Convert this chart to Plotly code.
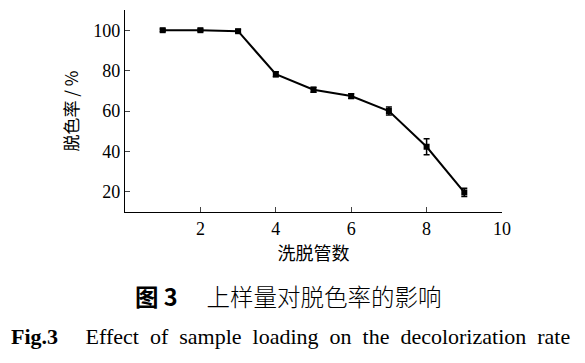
import plotly.graph_objects as go

tubes = [1, 2, 3, 4, 5, 6, 7, 8, 9]
rate = [100, 100, 99.5, 78.2, 70.5, 67.4, 60.0, 42.3, 19.7]
err = [0.6, 0.6, 0.8, 1.2, 1.2, 1.2, 2.0, 4.0, 2.0]
x_ticks = [2, 4, 6, 8, 10]
y_ticks = [20, 40, 60, 80, 100]

serif = "Liberation Serif"
cjk = "Noto Sans CJK SC"

fig = go.Figure()
fig.add_trace(go.Scatter(
    x=tubes, y=rate, mode="lines+markers",
    line=dict(color="black", width=2),
    marker=dict(symbol="square", size=6, color="black"),
    error_y=dict(type="data", array=err, visible=True, color="black", thickness=1.5, width=3),
    showlegend=False,
))

fig.update_layout(
    width=585, height=363,
    margin=dict(l=125, r=83, t=10, b=151),
    plot_bgcolor="white", paper_bgcolor="white",
    xaxis=dict(range=[0, 10], tickvals=x_ticks, ticks="inside", ticklen=5, tickwidth=1.2,
               showline=True, linecolor="black", linewidth=1.2, showgrid=False, zeroline=False,
               tickfont=dict(family=serif, size=18, color="black"),
               title=dict(text="洗脱管数", font=dict(family=cjk, size=18, color="black"), standoff=4)),
    yaxis=dict(range=[10, 110], tickvals=y_ticks, ticks="inside", ticklen=5, tickwidth=1.2,
               showline=True, linecolor="black", linewidth=1.2, showgrid=False, zeroline=False,
               tickfont=dict(family=serif, size=18, color="black"),
               title=dict(text="脱色率 / %", font=dict(family=cjk, size=17, color="black"), standoff=10)),
)

fig.add_annotation(text="<b>图 3</b>\u2003\u00a0<span style='font-weight:300'>上样量对脱色率的影响</span>",
                   xref="paper", yref="paper",
                   x=0.433, y=-0.418, showarrow=False, xanchor="center", yanchor="middle",
                   font=dict(family=cjk, size=23.5, color="black"))
fig.add_annotation(text="<b>Fig.3</b>     Effect  of  sample  loading  on  the  decolorization  rate",
                   xref="paper", yref="paper", x=0.438, y=-0.615, showarrow=False,
                   xanchor="center", yanchor="middle",
                   font=dict(family=serif, size=22, color="black"))

fig.write_html("out.html", config={"displayModeBar": False},
               post_script="document.body.style.margin='0';")
